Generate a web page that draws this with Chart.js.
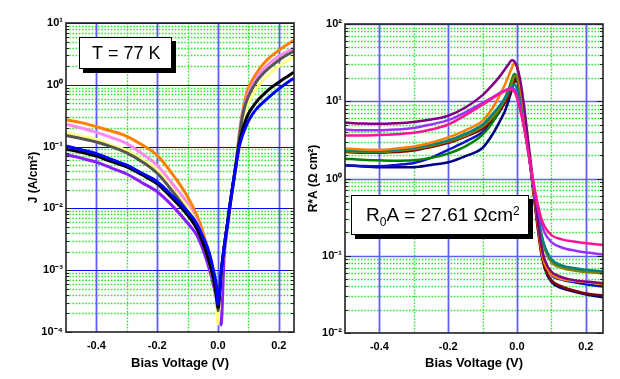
<!DOCTYPE html>
<html>
<head>
<meta charset="utf-8">
<script src="https://cdn.jsdelivr.net/npm/chart.js@4.4.0/dist/chart.umd.min.js"></script>
<style>
  body { margin: 0; background: #fff; }
  #leftChart { position: absolute; left: 0; top: 0; }
  #rightChart { position: absolute; left: 305px; top: 0; }
</style>
</head>
<body>
<canvas id="leftChart" width="305" height="379"></canvas>
<canvas id="rightChart" width="315" height="379"></canvas>
<script>
// ---- left panel: J (A/cm2) vs bias voltage, T = 77 K ----
var leftVoltage = [-0.5, -0.45, -0.4, -0.35, -0.3, -0.25, -0.2, -0.15, -0.1, -0.07, -0.05, -0.03, -0.015, -0.005, 0, 0.005, 0.01, 0.02, 0.03, 0.04, 0.05, 0.06, 0.07, 0.08, 0.09, 0.1, 0.125, 0.15, 0.175, 0.2, 0.225, 0.25];
var jBlue   = [0.102, 0.089, 0.077, 0.062, 0.05, 0.037, 0.027, 0.016, 0.0089, 0.0057, 0.0035, 0.002, 0.001, 0.00055, 0.00028, 0.00045, 0.0009, 0.0023, 0.0052, 0.012, 0.026, 0.052, 0.1, 0.15, 0.2, 0.26, 0.4, 0.53, 0.68, 0.86, 1.06, 1.28];
var jBlack  = [0.091, 0.081, 0.07, 0.057, 0.047, 0.035, 0.025, 0.0145, 0.0078, 0.0047, 0.0028, 0.0014, 0.00072, 0.00037, 0.00025, 0.0004, 0.00085, 0.0023, 0.0052, 0.012, 0.026, 0.055, 0.11, 0.18, 0.26, 0.34, 0.52, 0.7, 0.9, 1.1, 1.33, 1.6];
var jGray   = [0.152, 0.135, 0.119, 0.099, 0.079, 0.057, 0.037, 0.019, 0.0088, 0.005, 0.0029, 0.0014, 0.00072, 0.00037, 0.00022, 0.0004, 0.00085, 0.0023, 0.0052, 0.012, 0.026, 0.057, 0.14, 0.3, 0.48, 0.65, 1.1, 1.55, 2.0, 2.5, 3.0, 3.5];
var jYellow = [0.166, 0.147, 0.13, 0.105, 0.087, 0.062, 0.042, 0.02, 0.0105, 0.0058, 0.0031, 0.0014, 0.0007, 0.00035, 0.000135, 0.00035, 0.00085, 0.0023, 0.0052, 0.012, 0.026, 0.056, 0.13, 0.25, 0.38, 0.5, 0.85, 1.2, 1.6, 2.0, 2.4, 2.85];
var jPink   = [0.23, 0.2, 0.17, 0.14, 0.112, 0.077, 0.05, 0.025, 0.012, 0.0063, 0.0033, 0.0014, 0.0007, 0.00037, 0.00019, 0.0004, 0.00085, 0.0023, 0.0052, 0.012, 0.026, 0.057, 0.15, 0.32, 0.52, 0.72, 1.25, 1.8, 2.35, 2.9, 3.4, 3.95];
var jOrange = [0.27, 0.244, 0.21, 0.178, 0.147, 0.107, 0.072, 0.036, 0.0155, 0.0078, 0.0042, 0.0017, 0.0008, 0.00042, 0.00024, 0.00045, 0.00085, 0.0023, 0.0052, 0.012, 0.026, 0.058, 0.16, 0.35, 0.6, 0.88, 1.5, 2.2, 2.9, 3.6, 4.4, 5.3];
var jPurple = [0.074, 0.065, 0.056, 0.045, 0.036, 0.026, 0.0186, 0.011, 0.0058, 0.0037, 0.0022, 0.0011, 0.00058, 0.00034, 0.00025, 0.0002, 0.00013, 0.0016, 0.0045, 0.011, 0.024, 0.05, null, null, null, null, null, null, null, null, null, null];

// ---- right panel: R*A (Ohm cm2) vs bias voltage ----
var rightVoltage = [-0.5, -0.45, -0.4, -0.35, -0.3, -0.25, -0.2, -0.15, -0.1, -0.07, -0.05, -0.035, -0.025, -0.015, -0.008, 0, 0.01, 0.02, 0.03, 0.04, 0.05, 0.06, 0.07, 0.08, 0.1, 0.13, 0.17, 0.21, 0.25];
var raPink   = [3.6, 3.6, 3.65, 3.75, 3.9, 4.3, 5.0, 6.6, 9.0, 11, 12.5, 13.5, 14.2, 14.2, 13.4, 11, 7.5, 4.6, 2.6, 1.4, 0.8, 0.47, 0.31, 0.24, 0.185, 0.163, 0.152, 0.144, 0.138];
var raViolet = [4.3, 4.2, 4.2, 4.3, 4.5, 5.0, 5.7, 7.2, 9.5, 11.3, 12.8, 13.8, 14.4, 14.8, 14.3, 12, 8, 4.8, 2.6, 1.35, 0.72, 0.42, 0.27, 0.2, 0.15, 0.128, 0.116, 0.109, 0.104];
var raPurple = [5.3, 5.15, 5.1, 5.2, 5.4, 5.8, 6.5, 8.3, 12, 16.5, 21, 26, 30, 34, 33, 28, 18, 9, 3.8, 1.6, 0.68, 0.29, 0.14, 0.09, 0.062, 0.053, 0.048, 0.046, 0.044];
var raOrange = [2.45, 2.38, 2.35, 2.45, 2.6, 2.9, 3.4, 4.2, 5.6, 8.3, 12, 16.5, 21, 27, 31, 28, 16, 8, 3.5, 1.45, 0.62, 0.27, 0.125, 0.08, 0.058, 0.05, 0.047, 0.045, 0.043];
var raTeal   = [2.3, 2.25, 2.25, 2.35, 2.5, 2.75, 3.1, 3.8, 5.0, 6.9, 8.8, 11, 13, 15.5, 16.5, 14.5, 9.5, 5.2, 2.7, 1.35, 0.68, 0.35, 0.2, 0.135, 0.09, 0.075, 0.069, 0.065, 0.063];
var raOlive  = [2.25, 2.2, 2.2, 2.3, 2.4, 2.65, 3.0, 3.6, 4.7, 6.3, 8.2, 10.5, 13, 17, 21, 21, 13, 6.8, 3.2, 1.4, 0.66, 0.33, 0.185, 0.125, 0.083, 0.07, 0.064, 0.061, 0.059];
var raGreen  = [1.8, 1.75, 1.72, 1.7, 1.72, 1.85, 2.1, 2.6, 3.7, 5.4, 8, 11, 14, 19, 22.5, 20, 13, 6.8, 3.2, 1.4, 0.66, 0.33, 0.19, 0.13, 0.087, 0.073, 0.067, 0.064, 0.062];
var raMaroon = [2.2, 2.15, 2.15, 2.2, 2.3, 2.55, 2.9, 3.5, 4.4, 5.8, 7.5, 9.5, 11.5, 15, 18, 18, 12, 6.5, 3.0, 1.3, 0.55, 0.23, 0.11, 0.072, 0.048, 0.04, 0.035, 0.032, 0.0305];
var raBlue   = [1.47, 1.45, 1.44, 1.5, 1.59, 1.85, 2.35, 3.0, 4.0, 5.5, 7.5, 10, 12.5, 16.5, 20, 19.5, 12.5, 6.8, 3.1, 1.35, 0.6, 0.27, 0.14, 0.085, 0.057, 0.049, 0.045, 0.042, 0.040];
var raNavy   = [1.49, 1.43, 1.4, 1.4, 1.4, 1.5, 1.62, 1.95, 2.5, 3.8, 5.5, 7.5, 10, 14, 18, 19, 12.5, 6.8, 3.1, 1.33, 0.57, 0.25, 0.12, 0.07, 0.046, 0.038, 0.034, 0.031, 0.029];

// tick positions
var majorVolts = [-0.4, -0.2, 0, 0.2];
var minorVolts = [-0.3, -0.1, 0.1];
var leftDecades = [1e-4, 1e-3, 1e-2, 1e-1, 1, 10];
var rightDecades = [1e-2, 1e-1, 1, 10, 100];

var FONT = "'Liberation Sans', Arial, sans-serif";
var SUP = { '-4': '\u207B\u2074', '-3': '\u207B\u00B3', '-2': '\u207B\u00B2', '-1': '\u207B\u00B9', '0': '\u2070', '1': '\u00B9', '2': '\u00B2' };

function pts(xs, ys) {
    return xs.map((v, i) => ({ x: v, y: ys[i] }));
}

// grid lines like the original plot: blue majors, dotted green minors
var paperGrid = {
    id: 'paperGrid',
    beforeDatasetsDraw(chart, args, o) {
        var ctx = chart.ctx, a = chart.chartArea, x = chart.scales.x, y = chart.scales.y;
        ctx.save();
        ctx.beginPath();
        ctx.rect(a.left, a.top, a.right - a.left, a.bottom - a.top);
        ctx.clip();
        ctx.strokeStyle = '#2ee62e';
        ctx.lineWidth = 1.4;
        ctx.setLineDash([1.6, 1.6]);
        minorVolts.forEach(v => {
            var px = Math.round(x.getPixelForValue(v)) + 0.5;
            ctx.beginPath(); ctx.moveTo(px, a.top); ctx.lineTo(px, a.bottom); ctx.stroke();
        });
        for (var d = Math.log10(y.min); d < Math.log10(y.max); d++) {
            for (var k = 2; k < 10; k++) {
                var py = Math.round(y.getPixelForValue(k * Math.pow(10, d))) + 0.5;
                ctx.beginPath(); ctx.moveTo(a.left, py); ctx.lineTo(a.right, py); ctx.stroke();
            }
        }
        ctx.setLineDash([]);
        ctx.strokeStyle = o.vColor;
        ctx.lineWidth = 1.8;
        majorVolts.forEach(v => {
            var px = Math.round(x.getPixelForValue(v)) + 0.5;
            ctx.beginPath(); ctx.moveTo(px, a.top); ctx.lineTo(px, a.bottom); ctx.stroke();
        });
        ctx.strokeStyle = o.hColor;
        ctx.lineWidth = o.hWidth;
        o.decades.forEach(v => {
            var py = Math.round(y.getPixelForValue(v)) + 0.5;
            ctx.beginPath(); ctx.moveTo(a.left, py); ctx.lineTo(a.right, py); ctx.stroke();
        });
        ctx.restore();
    },
    afterDatasetsDraw(chart) {
        var ctx = chart.ctx, a = chart.chartArea, y = chart.scales.y;
        ctx.save();
        ctx.strokeStyle = '#222';
        ctx.lineWidth = 1;
        for (var d = Math.log10(y.min); d <= Math.log10(y.max); d++) {
            for (var k = 1; k < 10; k++) {
                var v = k * Math.pow(10, d);
                if (v > y.max * 1.0001) break;
                var py = Math.round(y.getPixelForValue(v)) + 0.5;
                var len = k === 1 ? 6 : 3;
                ctx.beginPath();
                ctx.moveTo(a.left, py); ctx.lineTo(a.left + len, py);
                ctx.moveTo(a.right, py); ctx.lineTo(a.right - len, py);
                ctx.stroke();
            }
        }
        ctx.lineWidth = 1.6;
        ctx.strokeRect(a.left, a.top, a.right - a.left, a.bottom - a.top);
        ctx.restore();
    }
};

// text boxes with drop shadow
var noteBox = {
    id: 'noteBox',
    afterDraw(chart, args, o) {
        var ctx = chart.ctx;
        ctx.save();
        ctx.fillStyle = '#000';
        ctx.fillRect(o.x + o.shadow, o.y + o.shadow, o.w, o.h);
        ctx.fillStyle = '#fff';
        ctx.fillRect(o.x, o.y, o.w, o.h);
        ctx.strokeStyle = '#000';
        ctx.lineWidth = 1;
        ctx.strokeRect(o.x + 0.5, o.y + 0.5, o.w - 1, o.h - 1);
        ctx.fillStyle = '#000';
        ctx.textBaseline = 'alphabetic';
        ctx.textAlign = 'left';
        var cx = o.tx;
        o.parts.forEach(p => {
            ctx.font = p.size + 'px ' + FONT;
            ctx.fillText(p.text, cx, o.ty + (p.dy || 0));
            cx += ctx.measureText(p.text).width;
        });
        ctx.restore();
    }
};

function axisOptions(decades, ymin, ymax, yTitle, yWidth, yTitlePad, xHeight) {
    return {
        x: {
            type: 'linear', min: -0.5, max: 0.25,
            grid: { display: false, drawTicks: false }, border: { display: false },
            afterBuildTicks: s => { s.ticks = majorVolts.map(v => ({ value: v })); },
            ticks: {
                autoSkip: false, maxRotation: 0, padding: 7, color: '#000',
                font: { family: FONT, size: 11, weight: 'bold' },
                callback: v => (Math.abs(v) < 1e-9 ? 0 : v).toFixed(1)
            },
            title: {
                display: true, text: 'Bias Voltage (V)', color: '#000',
                font: { family: FONT, size: 13, weight: 'bold' },
                padding: { top: 0, bottom: 8 }
            },
            afterFit: s => { s.height = xHeight; }
        },
        y: {
            type: 'logarithmic', min: ymin, max: ymax,
            grid: { display: false, drawTicks: false }, border: { display: false },
            afterBuildTicks: s => { s.ticks = decades.map(v => ({ value: v })); },
            ticks: {
                autoSkip: false, padding: 3, color: '#000',
                font: { family: FONT, size: 11, weight: 'bold' },
                callback: v => '10' + SUP[String(Math.round(Math.log10(v)))]
            },
            title: {
                display: true, text: yTitle, color: '#000',
                font: { family: FONT, size: 12, weight: 'bold' },
                padding: { top: yTitlePad, bottom: 0 }
            },
            afterFit: s => { s.width = yWidth; }
        }
    };
}

new Chart(document.getElementById('leftChart'), {
    type: 'line',
    data: {
        datasets: [
            { label: 'blue', data: pts(leftVoltage, jBlue), borderColor: '#0000ff' },
            { label: 'black', data: pts(leftVoltage, jBlack), borderColor: '#000000' },
            { label: 'gray', data: pts(leftVoltage, jGray), borderColor: '#555555' },
            { label: 'yellow', data: pts(leftVoltage, jYellow), borderColor: '#ffff80' },
            { label: 'pink', data: pts(leftVoltage, jPink), borderColor: '#ff88f0' },
            { label: 'orange', data: pts(leftVoltage, jOrange), borderColor: '#ff8000' },
            { label: 'purple', data: pts(leftVoltage, jPurple), borderColor: '#8a1cff' }
        ]
    },
    options: {
        responsive: false, animation: false,
        layout: { padding: { top: 23, right: 11, left: 0, bottom: 0 } },
        elements: {
            point: { radius: 0 },
            line: { borderWidth: 3, cubicInterpolationMode: 'monotone', fill: false }
        },
        plugins: {
            legend: { display: false }, tooltip: { enabled: false },
            paperGrid: { vColor: '#5c5cff', hColor: '#0000ff', hWidth: 1.2, decades: leftDecades },
            noteBox: { x: 79, y: 37, w: 93, h: 32, shadow: 4, tx: 92, ty: 59,
                       parts: [{ text: 'T = 77 K', size: 18 }] }
        },
        scales: axisOptions(leftDecades, 1e-4, 10, 'J (A/cm\u00B2)', 66, 26, 47)
    },
    plugins: [paperGrid, noteBox]
});

new Chart(document.getElementById('rightChart'), {
    type: 'line',
    data: {
        datasets: [
            { label: 'pink', data: pts(rightVoltage, raPink), borderColor: '#ff1493' },
            { label: 'violet', data: pts(rightVoltage, raViolet), borderColor: '#9b30ff' },
            { label: 'purple', data: pts(rightVoltage, raPurple), borderColor: '#800080' },
            { label: 'orange', data: pts(rightVoltage, raOrange), borderColor: '#ff8000' },
            { label: 'teal', data: pts(rightVoltage, raTeal), borderColor: '#008080' },
            { label: 'olive', data: pts(rightVoltage, raOlive), borderColor: '#808000' },
            { label: 'green', data: pts(rightVoltage, raGreen), borderColor: '#008000' },
            { label: 'maroon', data: pts(rightVoltage, raMaroon), borderColor: '#800000' },
            { label: 'blue', data: pts(rightVoltage, raBlue), borderColor: '#1010c8' },
            { label: 'navy', data: pts(rightVoltage, raNavy), borderColor: '#000080' }
        ]
    },
    options: {
        responsive: false, animation: false,
        layout: { padding: { top: 24, right: 17, left: 0, bottom: 0 } },
        elements: {
            point: { radius: 0 },
            line: { borderWidth: 2.5, cubicInterpolationMode: 'monotone', fill: false }
        },
        plugins: {
            legend: { display: false }, tooltip: { enabled: false },
            paperGrid: { vColor: '#6060ff', hColor: '#6060ff', hWidth: 1.6, decades: rightDecades },
            noteBox: { x: 46, y: 195, w: 178, h: 40, shadow: 4, tx: 61, ty: 221,
                       parts: [{ text: 'R', size: 19 }, { text: '0', size: 12, dy: 5 },
                               { text: 'A = 27.61 \u03A9cm', size: 19 }, { text: '2', size: 12, dy: -6 }] }
        },
        scales: axisOptions(rightDecades, 1e-2, 100, 'R*A (\u03A9 cm\u00B2)', 40, 1, 46)
    },
    plugins: [paperGrid, noteBox]
});
</script>
</body>
</html>
